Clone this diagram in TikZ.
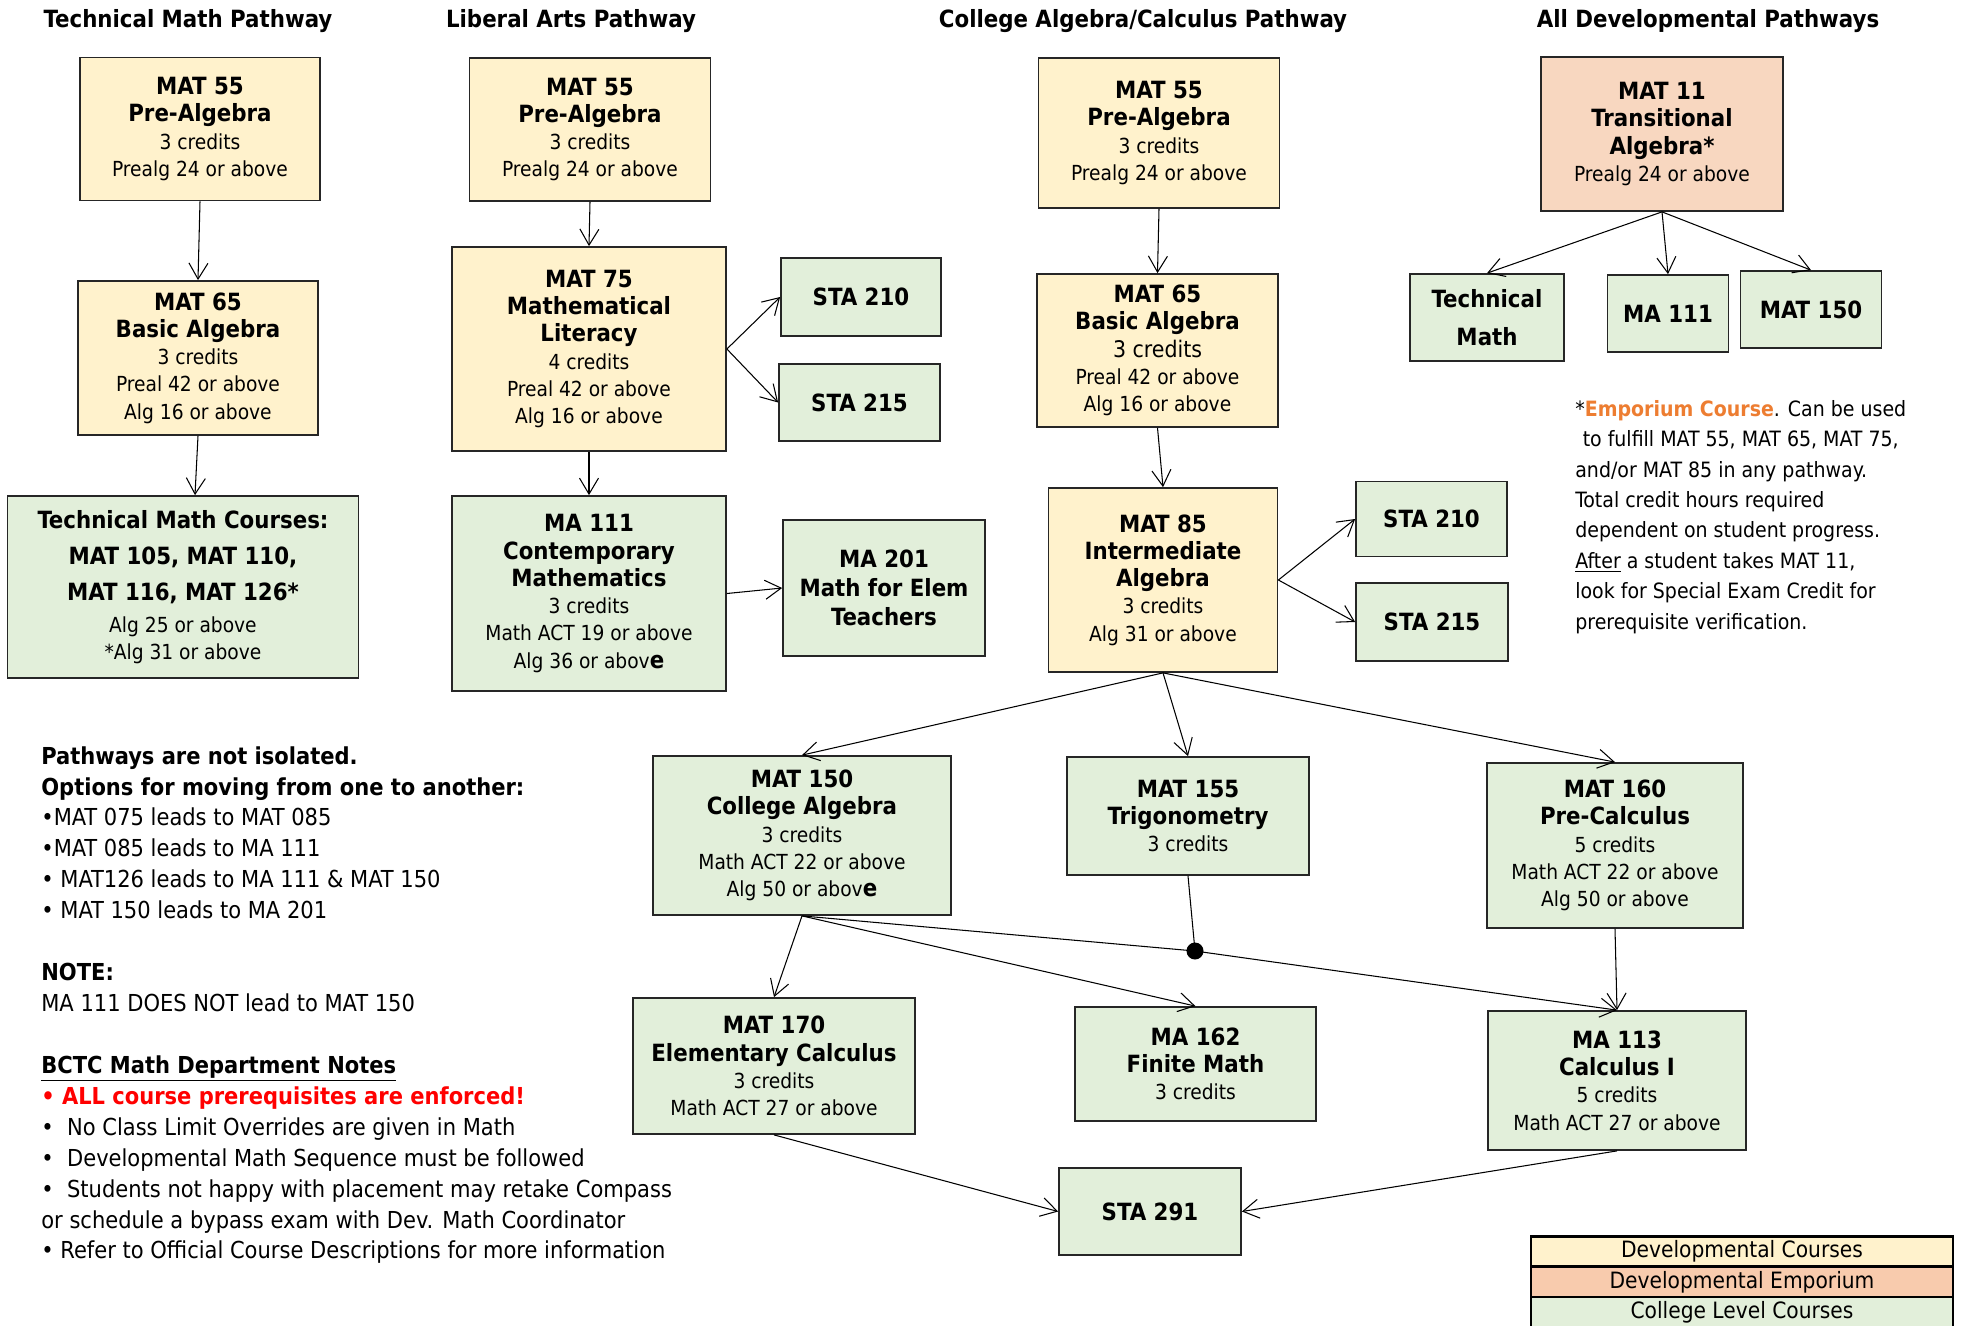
\documentclass[tikz,border=0pt]{standalone}
\usepackage{fontspec}
\setmainfont{DejaVu Sans Condensed}
\usetikzlibrary{arrows.meta}

\definecolor{devyellow}{HTML}{FFF2CC}
\definecolor{emppeach}{HTML}{F8D7C0}
\definecolor{legpeach}{HTML}{F8CBAD}
\definecolor{colgreen}{HTML}{E2EFDA}
\definecolor{emporange}{HTML}{ED7D31}
\definecolor{alertred}{HTML}{FF0000}

\newcommand{\hd}{\fontsize{13.5}{15.5}\selectfont\bfseries}
\newcommand{\tx}{\fontsize{11.8}{15.5}\selectfont}

\tikzset{
  course/.style={draw=black!85, line width=1pt, align=center, inner sep=0pt, font=\tx},
  dev/.style={course, fill=devyellow},
  emp/.style={course, fill=emppeach},
  col/.style={course, fill=colgreen},
  arr/.style={-{Straight Barb[length=3.2mm,width=3.8mm]}, line width=0.6pt},
  pathtitle/.style={font=\hd, inner sep=0pt},
  legend/.style={draw=black, line width=1.5pt, minimum width=84.4mm, minimum height=6mm, inner sep=0pt, font=\fontsize{12.8}{14}\selectfont},
  notes/.style={anchor=north west, align=left, inner sep=0pt}
}

\begin{document}
\begin{tikzpicture}[x=0.2mm,y=-0.2mm]
\useasboundingbox (0,0) rectangle (1961,1325);

%Titles
\node[pathtitle] (ttech) at (188,21) {Technical Math Pathway};
\node[pathtitle] (tlib) at (571,21) {Liberal Arts Pathway};
\node[pathtitle] (tcol) at (1143,21) {College Algebra/Calculus Pathway};
\node[pathtitle] (tdev) at (1708,21) {All Developmental Pathways};

%*** Technical Math Pathway ***
\node[dev, minimum width=48mm, minimum height=28.6mm] (tm55) at (200,129)
  {{\hd MAT 55}\\{\hd Pre-Algebra}\\3 credits\\Prealg 24 or above};
\node[dev, minimum width=48mm, minimum height=30.8mm] (tm65) at (198,358)
  {{\hd MAT 65}\\{\hd Basic Algebra}\\3 credits\\Preal 42 or above\\Alg 16 or above};
\node[col, minimum width=70.2mm, minimum height=36.4mm] (tmc) at (183,587)
  {{\hd Technical Math Courses:}\\[5pt]{\hd MAT 105, MAT 110,}\\[5pt]{\hd MAT 116, MAT 126*}\\[2.5pt]Alg 25 or above\\{*}Alg 31 or above};

\draw[arr] (tm55.south) -- (tm65.north);
\draw[arr] (tm65.south) -- ([xshift=-0.6mm]tm65.south |- tmc.north);

%*** Liberal Arts Pathway ***
\node[dev, minimum width=48.2mm, minimum height=28.6mm] (la55) at (590,129.5)
  {{\hd MAT 55}\\{\hd Pre-Algebra}\\3 credits\\Prealg 24 or above};
\node[dev, minimum width=54.8mm, minimum height=40.8mm] (la75) at (589,349)
  {{\hd MAT 75}\\{\hd Mathematical}\\{\hd Literacy}\\4 credits\\Preal 42 or above\\Alg 16 or above};
\node[col, minimum width=54.8mm, minimum height=39mm] (la111) at (589,593.5)
  {{\hd MA 111}\\{\hd Contemporary}\\{\hd Mathematics}\\3 credits\\Math ACT 19 or above\\Alg 36 or abov{\hd e}};
\node[col, minimum width=32mm, minimum height=15.6mm] (sta210a) at (861,297) {\hd STA 210};
\node[col, minimum width=32.2mm, minimum height=15.4mm] (sta215a) at (859.5,402.5) {\hd STA 215};
\node[col, minimum width=40.4mm, minimum height=27.2mm] (ma201) at (884,588)
  {{\hd MA 201}\\[1pt]{\hd Math for Elem}\\[1pt]{\hd Teachers}};

\draw[arr] (la55.south) -- (la75.north);
\draw[arr] (la75.south) -- (la111.north);
\draw[arr] (la75.east) -- (sta210a.west);
\draw[arr] (la75.east) -- (sta215a.west);
\draw[arr] (la111.east) -- (ma201.west);

%*** College Algebra/Calculus Pathway ***
\node[dev, minimum width=48.2mm, minimum height=30mm] (ca55) at (1159,133)
  {{\hd MAT 55}\\{\hd Pre-Algebra}\\3 credits\\Prealg 24 or above};
\node[dev, minimum width=48.2mm, minimum height=30.6mm] (ca65) at (1157.5,350.5)
  {{\hd MAT 65}\\{\hd Basic Algebra}\\{\fontsize{13}{15.5}\selectfont 3 credits}\\Preal 42 or above\\Alg 16 or above};
\node[dev, minimum width=45.8mm, minimum height=36.8mm] (ca85) at (1163,580)
  {{\hd MAT 85}\\{\hd Intermediate}\\{\hd Algebra}\\3 credits\\Alg 31 or above};
\node[col, minimum width=30.2mm, minimum height=15mm] (sta210b) at (1431.5,519) {\hd STA 210};
\node[col, minimum width=30.4mm, minimum height=15.6mm] (sta215b) at (1432,622) {\hd STA 215};

\node[col, minimum width=59.6mm, minimum height=31.8mm] (mat150) at (802,835.5)
  {{\hd MAT 150}\\{\hd College Algebra}\\3 credits\\Math ACT 22 or above\\Alg 50 or abov{\hd e}};
\node[col, minimum width=48.4mm, minimum height=23.6mm] (mat155) at (1188,816)
  {{\hd MAT 155}\\{\hd Trigonometry}\\3 credits};
\node[col, minimum width=51.2mm, minimum height=33mm] (mat160) at (1615,845.5)
  {{\hd MAT 160}\\{\hd Pre-Calculus}\\5 credits\\Math ACT 22 or above\\Alg 50 or above};
\node[col, minimum width=56.4mm, minimum height=27.2mm] (mat170) at (774,1066)
  {{\hd MAT 170}\\{\hd Elementary Calculus}\\3 credits\\Math ACT 27 or above};
\node[col, minimum width=48.2mm, minimum height=22.8mm] (ma162) at (1195.5,1064)
  {{\hd MA 162}\\{\hd Finite Math}\\3 credits};
\node[col, minimum width=51.6mm, minimum height=27.8mm] (ma113) at (1617,1080.5)
  {{\hd MA 113}\\{\hd Calculus I}\\5 credits\\Math ACT 27 or above};
\node[col, minimum width=36.4mm, minimum height=17.4mm] (sta291) at (1150,1211.5) {\hd STA 291};

%Junction of MAT 150 and MAT 155
\coordinate (jn) at (1195,951);

\draw[arr] (ca55.south) -- (ca65.north);
\draw[arr] (ca65.south) -- (ca85.north);
\draw[arr] (ca85.east) -- (sta210b.west);
\draw[arr] (ca85.east) -- (sta215b.west);
\draw[arr] (ca85.south) -- (mat150.north);
\draw[arr] (ca85.south) -- (mat155.north);
\draw[arr] (ca85.south) -- (mat160.north);
\draw[arr] (mat150.south) -- (mat170.north);
\draw[arr] (mat150.south) -- (ma162.north);
\draw[line width=0.6pt] (mat150.south) -- (jn);
\draw[line width=0.6pt] (mat155.south) -- (jn);
\draw[arr] (jn) -- (ma113.north);
\fill (jn) circle (1.7mm);
\draw[arr] (mat160.south) -- (ma113.north);
\draw[arr] (mat170.south) -- (sta291.west);
\draw[arr] (ma113.south) -- (sta291.east);

%*** All Developmental Pathways ***
\node[emp, minimum width=48.4mm, minimum height=30.8mm] (mat11) at (1662,134)
  {{\hd MAT 11}\\{\hd Transitional}\\{\hd Algebra*}\\Prealg 24 or above};
\node[col, minimum width=30.8mm, minimum height=17.4mm] (techm) at (1487,317.5)
  {{\hd Technical}\\[6pt]{\hd Math}};
\node[col, minimum width=24.2mm, minimum height=15.4mm] (ma111b) at (1668,313.5) {\hd MA 111};
\node[col, minimum width=28.2mm, minimum height=15.4mm] (mat150b) at (1811,309.5) {\hd MAT 150};

\draw[arr] (mat11.south) -- (techm.north);
\draw[arr] (mat11.south) -- (ma111b.north);
\draw[arr] (mat11.south) -- (mat150b.north);

%Emporium note
\node[notes, font=\fontsize{12}{17.3}\selectfont] (empnote) at (1575,400)
  {*\textcolor{emporange}{\textbf{Emporium Course}}. Can be used\\
   \hspace*{0.35em}to fulfill MAT 55, MAT 65, MAT 75,\\
   and/or MAT 85 in any pathway.\\
   Total credit hours required\\
   dependent on student progress.\\
   \underline{After} a student takes MAT 11,\\
   look for Special Exam Credit for\\
   prerequisite verification.};

%Notes on the left
\node[notes, font=\fontsize{13.3}{17.6}\selectfont] (deptnotes) at (41,746)
  {\textbf{Pathways are not isolated.}\\
   \textbf{Options for moving from one to another:}\\
   •MAT 075 leads to MAT 085\\
   •MAT 085 leads to MA 111\\
   • MAT126 leads to MA 111 \& MAT 150\\
   • MAT 150 leads to MA 201\\[17.6pt]
   \textbf{NOTE:}\\
   MA 111 DOES NOT lead to MAT 150\\[17.6pt]
   \underline{\textbf{BCTC Math Department Notes}}\\
   \textcolor{alertred}{\textbf{• ALL course prerequisites are enforced!}}\\
   •\ \ No Class Limit Overrides are given in Math\\
   •\ \ Developmental Math Sequence must be followed\\
   •\ \ Students not happy with placement may retake Compass\\
   or schedule a bypass exam with Dev. Math Coordinator\\
   • Refer to Official Course Descriptions for more information};

%Legend
\node[legend, fill=devyellow] (legdev) at (1742,1251.5) {Developmental Courses};
\node[legend, fill=legpeach] (legemp) at (1742,1282) {Developmental Emporium};
\node[legend, fill=colgreen] (legcol) at (1742,1312) {College Level Courses};
\end{tikzpicture}
\end{document}
